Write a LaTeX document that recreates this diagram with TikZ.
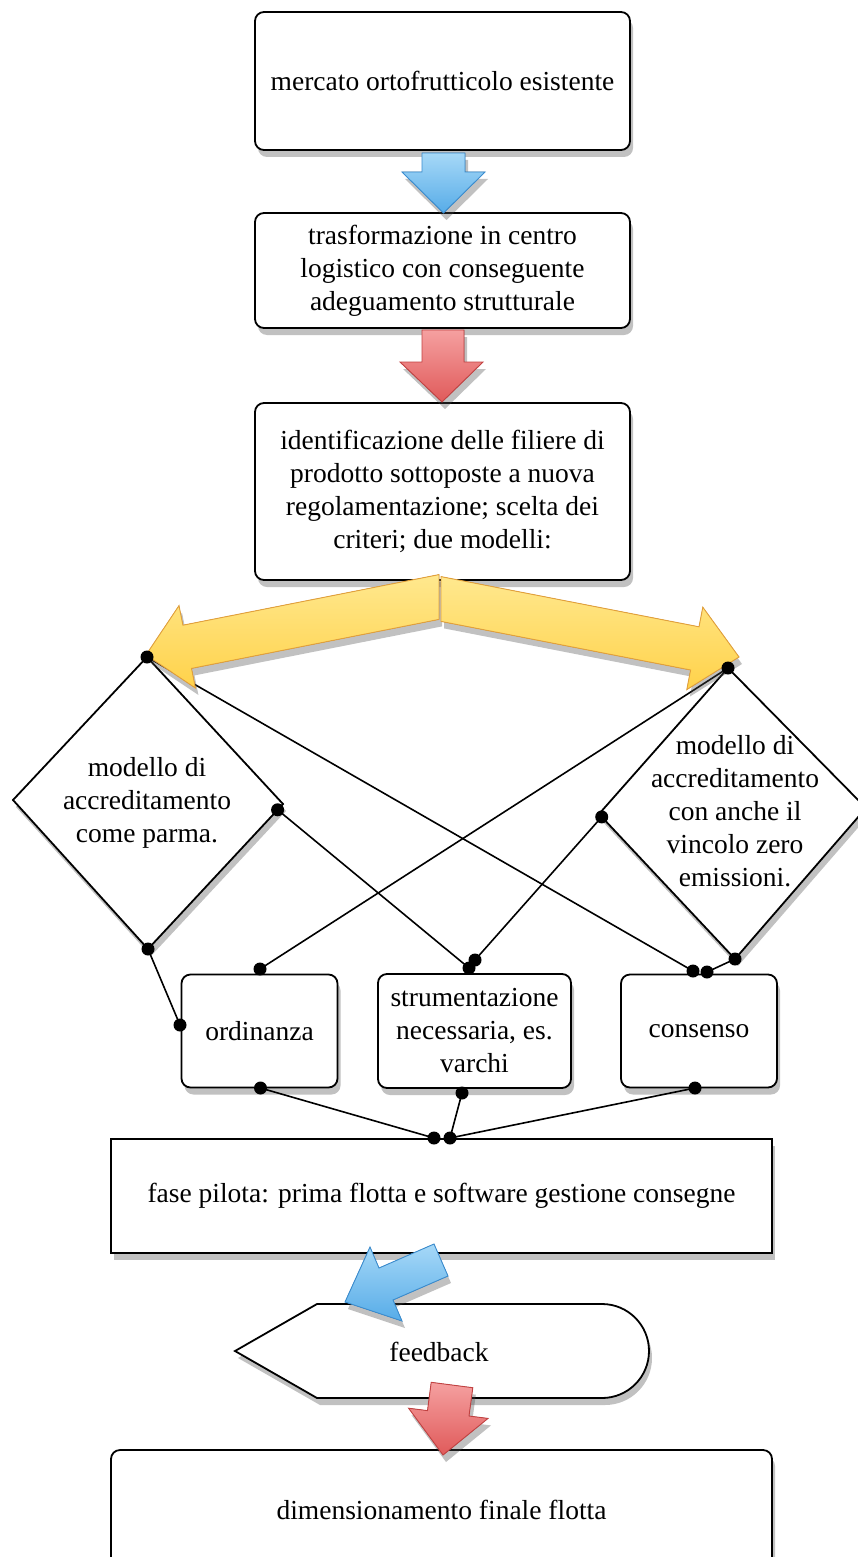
\documentclass[tikz,border=0pt]{standalone}
\usepackage{fontspec}
\setmainfont{Liberation Serif}
\usetikzlibrary{shadows,calc}
\definecolor{ytop}{HTML}{FFE88E}
\definecolor{ybot}{HTML}{FFD24A}
\definecolor{yedge}{HTML}{E3A03A}
\definecolor{btop}{HTML}{A6D8F7}
\definecolor{bbot}{HTML}{57ACE8}
\definecolor{bedge}{HTML}{3A8CCF}
\definecolor{rtop}{HTML}{F5A0A0}
\definecolor{rbot}{HTML}{E05A5A}
\definecolor{redge}{HTML}{C24242}
\begin{document}
\begin{tikzpicture}[x=1pt,y=-1pt,
  txt/.style={font=\fontsize{27.5}{33}\selectfont, align=center, inner sep=0pt},
  shad/.style={drop shadow={shadow xshift=3pt,shadow yshift=-7pt,opacity=0.35,fill=black!70}},
  box/.style={txt, draw=black, line width=1.8pt, fill=white, rounded corners=9pt, shad},
  sqbox/.style={txt, draw=black, line width=1.8pt, fill=white, shad},
  diam/.style={draw=black, line width=1.8pt, fill=white, shad},
  conn/.style={draw=black, line width=1.6pt},
  joint/.style={fill=black},
  yarrow/.style={draw=yedge, line width=0.9pt, top color=ytop, bottom color=ybot, shad},
  barrow/.style={draw=bedge, line width=0.9pt, top color=btop, bottom color=bbot, shad},
  rarrow/.style={draw=redge, line width=0.9pt, top color=rtop, bottom color=rbot, shad}
]
\useasboundingbox (0,0) rectangle (858,1557);

% main boxes
\node[box, minimum width=375pt, minimum height=138pt] (b1) at (442.5,81) {mercato ortofrutticolo esistente};
\node[box, minimum width=375pt, minimum height=115pt] (b2) at (442.5,270.5) {trasformazione in centro\\logistico con conseguente\\adeguamento strutturale};
\node[box, minimum width=375pt, minimum height=177pt] (b3) at (442.5,491.5) {identificazione delle filiere di\\prodotto sottoposte a nuova\\regolamentazione; scelta dei\\criteri; due modelli:};

% diamonds
\coordinate (LT) at (147,657);
\coordinate (LR) at (283,804);
\coordinate (LB) at (148,949);
\coordinate (LL) at (13,800);
\filldraw[diam] (LT) -- (LR) -- (LB) -- (LL) -- cycle;
\node[txt] (dl) at (147,803) {modello di\\accreditamento\\come parma.};

\coordinate (RT) at (728,668);
\coordinate (RR) at (866,808);
\coordinate (RB) at (735,959);
\coordinate (RL) at (599,814);
\filldraw[diam] (RT) -- (RR) -- (RB) -- (RL) -- cycle;
\node[txt] (dr) at (735,811) {modello di\\accreditamento\\con anche il\\vincolo zero\\emissioni.};

% lower boxes
\node[box, minimum width=156pt, minimum height=113pt] (ord) at (259.5,1031) {ordinanza};
\node[box, minimum width=193pt, minimum height=114pt] (str) at (474.5,1031) {strumentazione\\necessaria, es.\\varchi};
\node[box, minimum width=156pt, minimum height=113pt] (con) at (699,1031) {consenso};

\node[sqbox, minimum width=661pt, minimum height=114pt] (fase) at (441.5,1196) {fase pilota: prima flotta e software gestione consegne};

% feedback shape
\coordinate (fbL) at (235,1351);
\filldraw[diam] (fbL) -- (317,1304) -- (602,1304) arc[start angle=90,end angle=-90,radius=47pt] -- (317,1398) -- cycle;
\node[txt] (fb) at (439,1352) {feedback};

\node[box, minimum width=661pt, minimum height=120pt] (fin) at (441.5,1510) {dimensionamento finale flotta};

% connection points
\coordinate (d1) at (LT);
\coordinate (d2) at ($(LR)!0.04!(LB)$);
\coordinate (d3) at (LB);
\coordinate (d4) at (180,1025);
\coordinate (d5) at (260,969);
\coordinate (d6) at (475,960);
\coordinate (d7) at (469,968);
\coordinate (d8) at (693,971);
\coordinate (d9) at (707,972);
\coordinate (d10) at (RT);
\coordinate (d11) at ($(RL)!0.02!(RB)$);
\coordinate (d12) at (RB);
\coordinate (d13) at (260.5,1088);
\coordinate (d14) at (462,1093);
\coordinate (d15) at (695,1088);
\coordinate (d16) at (434,1138);
\coordinate (d17) at (450,1138);

% connectors
\draw[conn] (d1) -- (d8);
\draw[conn] (d2) -- (d7);
\draw[conn] (d3) -- (d4);
\draw[conn] (d10) -- (d5);
\draw[conn] (d11) -- (d6);
\draw[conn] (d12) -- (d9);
\draw[conn] (d13) -- (d16);
\draw[conn] (d14) -- (d17);
\draw[conn] (d15) -- (d17);

% block arrows
\filldraw[barrow] (422,153) -- (465,153) -- (465,172) -- (485,172) -- (443.5,213) -- (402,172) -- (422,172) -- cycle;
\filldraw[rarrow] (422,330) -- (464,330) -- (464,362) -- (483,362) -- (442,402) -- (400,362) -- (422,362) -- cycle;

\filldraw[yarrow] (439,574.6) -- (182.9,625.2) -- (179,605.6) -- (146,655) -- (195.4,688) -- (191.5,668.4) -- (439,619.4) -- cycle;
\filldraw[yarrow] (441,576.6) -- (699,626.8) -- (702.8,607.2) -- (739,657) -- (686.8,689.6) -- (690.6,670) -- (441,621.4) -- cycle;

\filldraw[barrow] (434,1244) -- (379,1268) -- (370,1247) -- (345,1302) -- (402,1321) -- (393,1300) -- (448,1276) -- cycle;
\filldraw[rarrow] (431.2,1382.3) -- (472.8,1387.7) -- (469,1416) -- (488,1418.4) -- (443,1455) -- (408.6,1408.2) -- (427.5,1410.6) -- cycle;

% joints
\foreach \p in {d1,d2,d3,d4,d5,d6,d7,d8,d9,d10,d11,d12,d13,d14,d15,d16,d17}
  \fill[joint] (\p) circle (6.5pt);
\end{tikzpicture}
\end{document}
